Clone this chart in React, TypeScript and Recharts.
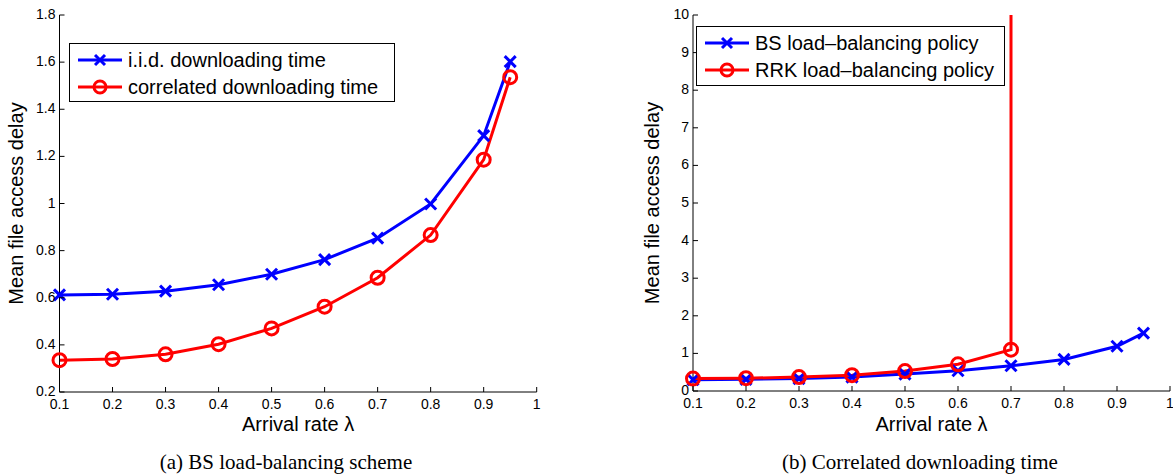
import React from "react";
import { LineChart, Line, XAxis, YAxis } from "recharts";

// arrival rates on the x axis
const lambdas = [0.1, 0.2, 0.3, 0.4, 0.5, 0.6, 0.7, 0.8, 0.9, 0.95];
const xTicks = [0.1, 0.2, 0.3, 0.4, 0.5, 0.6, 0.7, 0.8, 0.9, 1];

// (a) BS load-balancing scheme
const iidDelay = [0.612, 0.615, 0.628, 0.655, 0.7, 0.762, 0.853, 0.998, 1.288, 1.602];
const corrDelay = [0.335, 0.34, 0.36, 0.403, 0.47, 0.562, 0.685, 0.866, 1.186, 1.536];
const yTicksA = [0.2, 0.4, 0.6, 0.8, 1, 1.2, 1.4, 1.6, 1.8];

// (b) Correlated downloading time
const bsDelay = [0.3, 0.31, 0.33, 0.37, 0.45, 0.54, 0.67, 0.84, 1.19, 1.54];
const rrkLambdas = [0.1, 0.2, 0.3, 0.4, 0.5, 0.6, 0.7, 0.7];
const rrkDelay = [0.33, 0.34, 0.37, 0.42, 0.53, 0.71, 1.1, 10];
const yTicksB = [0, 1, 2, 3, 4, 5, 6, 7, 8, 9, 10];

const toRows = (xs: number[], ys: number[]) => xs.map((x, i) => ({ x, y: ys[i] }));

const BLUE = "#0000ff";
const RED = "#ff0000";
const SANS = "'Liberation Sans', Arial, sans-serif";
const SERIF = "'Liberation Serif', 'Times New Roman', serif";

const XTick = (props: any) => {
  const { x, y, payload } = props;
  return (
    <g>
      <line x1={x} y1={y} x2={x} y2={y - 5} stroke="#000" />
      <text x={x} y={y + 16.5} textAnchor="middle" fontSize={14} fontFamily={SANS} fill="#000">
        {String(payload.value)}
      </text>
    </g>
  );
};

const YTick = (props: any) => {
  const { x, y, payload } = props;
  return (
    <g>
      <line x1={x} y1={y} x2={x + 5} y2={y} stroke="#000" />
      <text x={x - 4} y={y + 4} textAnchor="end" fontSize={14} fontFamily={SANS} fill="#000">
        {String(payload.value)}
      </text>
    </g>
  );
};

const cross = (cx: number, cy: number, s: number, key?: any) => (
  <g key={key}>
    <line x1={cx - s} y1={cy - s} x2={cx + s} y2={cy + s} stroke={BLUE} strokeWidth={3} />
    <line x1={cx - s} y1={cy + s} x2={cx + s} y2={cy - s} stroke={BLUE} strokeWidth={3} />
  </g>
);

const XDot = (props: any) => {
  const { cx, cy, index } = props;
  if (cx == null || cy == null) return <g key={index} />;
  return cross(cx, cy, 5.5, index);
};

const makeODot = (skipLast: number) => (props: any) => {
  const { cx, cy, index } = props;
  if (cx == null || cy == null || index >= skipLast) return <g key={index} />;
  return <circle key={index} cx={cx} cy={cy} r={6.5} fill="none" stroke={RED} strokeWidth={3} />;
};

const xTitle = (props: any) => {
  const vb = props.viewBox;
  return (
    <text x={vb.x + vb.width / 2} y={431} textAnchor="middle" fontSize={20} fontFamily={SANS} fill="#000">
      Arrival rate λ
    </text>
  );
};

const yTitle = (dx: number) => (props: any) => {
  const vb = props.viewBox;
  const x = vb.x + vb.width - dx;
  const y = vb.y + vb.height / 2;
  return (
    <text
      x={x}
      y={y}
      transform={`rotate(-90, ${x}, ${y})`}
      textAnchor="middle"
      fontSize={20}
      fontFamily={SANS}
      fill="#000"
    >
      Mean file access delay
    </text>
  );
};

const LegendBox = ({ left, top, width, height, rows, names }: any) => (
  <svg
    style={{ position: "absolute", left, top, overflow: "visible" }}
    width={width}
    height={height}
  >
    <rect x={0.5} y={0.5} width={width - 1} height={height - 1} fill="#fff" stroke="#000" />
    {names.map((name: string, i: number) => {
      const cy = rows[i];
      const color = i === 0 ? BLUE : RED;
      return (
        <g key={name}>
          <line x1={9} y1={cy} x2={53} y2={cy} stroke={color} strokeWidth={3} />
          {i === 0 ? (
            cross(31, cy, 5)
          ) : (
            <circle cx={31} cy={cy} r={6} fill="none" stroke={RED} strokeWidth={3} />
          )}
          <text x={59} y={cy + 7} fontSize={20} fontFamily={SANS} fill="#000">
            {name}
          </text>
        </g>
      );
    })}
  </svg>
);

const Caption = ({ center, text }: any) => (
  <div
    style={{
      position: "absolute",
      left: center - 250,
      width: 500,
      top: 450,
      textAlign: "center",
      fontFamily: SERIF,
      fontSize: 21,
      lineHeight: "24px",
      color: "#000",
      whiteSpace: "nowrap",
    }}
  >
    {text}
  </div>
);

export default function App() {
  const axisLine = { stroke: "#000", strokeWidth: 1 };
  return (
    <div
      style={{
        position: "fixed",
        left: 0,
        top: 0,
        width: 1173,
        height: 476,
        background: "#fff",
      }}
    >
      <div style={{ position: "absolute", left: 0, top: 0 }}>
        <LineChart width={586} height={476} margin={{ top: 15, right: 49.3, bottom: 54, left: 10 }}>
          <XAxis
            type="number"
            dataKey="x"
            domain={[0.1, 1]}
            ticks={xTicks}
            interval={0}
            height={30}
            tickSize={0}
            tickMargin={0}
            tick={<XTick />}
            tickLine={false}
            axisLine={axisLine}
            label={{ content: xTitle }}
          />
          <YAxis
            type="number"
            domain={[0.2, 1.8]}
            ticks={yTicksA}
            interval={0}
            width={49.5}
            tickSize={0}
            tickMargin={0}
            tick={<YTick />}
            tickLine={false}
            axisLine={axisLine}
            label={{ content: yTitle(36.5) }}
          />
          <Line
            data={toRows(lambdas, iidDelay)}
            dataKey="y"
            type="linear"
            stroke={BLUE}
            strokeWidth={3}
            dot={XDot}
            isAnimationActive={false}
          />
          <Line
            data={toRows(lambdas, corrDelay)}
            dataKey="y"
            type="linear"
            stroke={RED}
            strokeWidth={3}
            dot={makeODot(99)}
            isAnimationActive={false}
          />
        </LineChart>
      </div>

      <div style={{ position: "absolute", left: 586, top: 0 }}>
        <LineChart width={587} height={476} margin={{ top: 15, right: 3, bottom: 55, left: 57.5 }}>
          <XAxis
            type="number"
            dataKey="x"
            domain={[0.1, 1]}
            ticks={xTicks}
            interval={0}
            height={30}
            tickSize={0}
            tickMargin={0}
            tick={<XTick />}
            tickLine={false}
            axisLine={axisLine}
            label={{ content: xTitle }}
          />
          <YAxis
            type="number"
            domain={[0, 10]}
            ticks={yTicksB}
            interval={0}
            width={49.5}
            tickSize={0}
            tickMargin={0}
            tick={<YTick />}
            tickLine={false}
            axisLine={axisLine}
            allowDataOverflow
            label={{ content: yTitle(34.5) }}
          />
          <Line
            data={toRows(lambdas, bsDelay)}
            dataKey="y"
            type="linear"
            stroke={BLUE}
            strokeWidth={3}
            dot={XDot}
            isAnimationActive={false}
          />
          <Line
            data={toRows(rrkLambdas, rrkDelay)}
            dataKey="y"
            type="linear"
            stroke={RED}
            strokeWidth={3}
            dot={makeODot(7)}
            isAnimationActive={false}
          />
        </LineChart>
      </div>

      <LegendBox
        left={69}
        top={43}
        width={326}
        height={59}
        rows={[17, 44]}
        names={["i.i.d. downloading time", "correlated downloading time"]}
      />
      <LegendBox
        left={696}
        top={26}
        width={309}
        height={60}
        rows={[17, 44]}
        names={["BS load–balancing policy", "RRK load–balancing policy"]}
      />

      <Caption center={286} text="(a) BS load-balancing scheme" />
      <Caption center={920} text="(b) Correlated downloading time" />
    </div>
  );
}
